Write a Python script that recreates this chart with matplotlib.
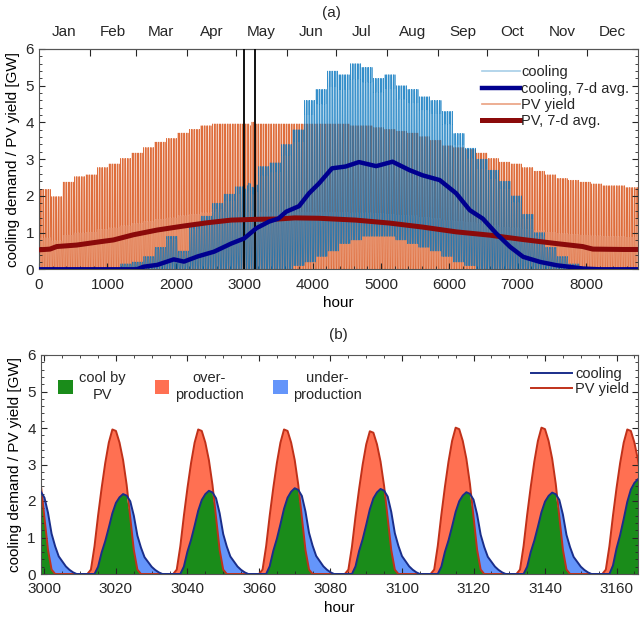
import matplotlib.pyplot as plt
import numpy as np
from matplotlib.collections import LineCollection
from matplotlib.lines import Line2D
from matplotlib.patches import Patch
from matplotlib.ticker import MultipleLocator, FixedLocator, NullFormatter, FixedFormatter

plt.rcParams['font.family'] = ['Liberation Sans', 'DejaVu Sans']
plt.rcParams['text.color'] = '#262626'
plt.rcParams['axes.edgecolor'] = '#555555'
plt.rcParams['xtick.color'] = '#262626'
plt.rcParams['ytick.color'] = '#262626'

months = ['Jan', 'Feb', 'Mar', 'Apr', 'May', 'Jun',
          'Jul', 'Aug', 'Sep', 'Oct', 'Nov', 'Dec']
month_days = [31, 28, 31, 30, 31, 30, 31, 31, 30, 31, 30, 31]

# daily peak level for each week of the year [GW]
pv_peak_week = [2.2, 2.0, 2.4, 2.55, 2.6, 2.8, 2.9, 3.05, 3.2, 3.35,
                3.5, 3.6, 3.75, 3.85, 3.95, 4.0, 4.0, 4.0, 4.0, 4.0,
                4.0, 4.0, 4.0, 4.0, 4.0, 4.0, 4.0, 3.95, 3.95, 3.9,
                3.85, 3.8, 3.75, 3.65, 3.55, 3.4, 3.35, 3.3, 3.2, 3.05,
                2.95, 2.9, 2.8, 2.7, 2.6, 2.5, 2.45, 2.4, 2.35, 2.3,
                2.3, 2.25, 2.25]
cool_peak_week = [0.0, 0.0, 0.0, 0.0, 0.0, 0.0, 0.02, 0.15, 0.2, 0.35,
                  0.6, 0.9, 0.5, 1.2, 1.45, 1.8, 2.05, 2.25, 2.3, 2.8,
                  2.9, 3.4, 3.8, 4.6, 4.9, 5.4, 5.3, 5.6, 5.5, 5.2,
                  5.3, 5.0, 4.9, 4.7, 4.6, 4.3, 3.7, 3.3, 3.0, 2.7,
                  2.4, 2.0, 1.5, 1.0, 0.6, 0.35, 0.15, 0.05, 0.0, 0.0,
                  0.0, 0.0, 0.0]
# night-time minimum of the cooling demand [GW]
cool_base_week = [0.0] * 22 + [0.1, 0.2, 0.35, 0.5, 0.7, 0.8, 0.9, 0.9,
                               0.9, 0.8, 0.7, 0.6, 0.5, 0.35, 0.2, 0.1] + [0.0] * 15

# diurnal shape per hour of day (fraction of the day's peak)
pv_shape = [0.39, 0.165, 0.03, 0, 0, 0, 0, 0, 0, 0, 0, 0,
            0, 0.03, 0.19, 0.4, 0.59, 0.76, 0.9, 0.99, 0.98, 0.9, 0.78, 0.61]
cool_shape = [0.91, 0.73, 0.48, 0.33, 0.21, 0.15, 0.09, 0.05, 0.02, 0, 0, 0,
              0, 0, 0, 0.09, 0.27, 0.41, 0.58, 0.76, 0.89, 0.96, 1.0, 0.98]

# peaks of the days in the detail window (days 124..131)
zoom_days = [124, 125, 126, 127, 128, 129, 130, 131]
pv_peak_zoom = [4.0, 4.0, 4.0, 4.0, 3.95, 4.05, 4.05, 4.0]
cool_peak_zoom = [2.3, 2.19, 2.28, 2.35, 2.33, 2.24, 2.23, 2.6]

# 7-day running averages [GW]
pv_avg_hour = [0, 160, 260, 550, 890, 1090, 1380, 1730, 2120, 2470, 2810,
               3150, 3500, 3740, 4090, 4630, 5120, 5610, 6100, 6590, 7080,
               7570, 7950, 8100, 8550, 8760]
pv_avg = [0.53, 0.55, 0.62, 0.66, 0.75, 0.80, 0.94, 1.07, 1.18, 1.27, 1.34,
          1.36, 1.37, 1.40, 1.39, 1.34, 1.26, 1.15, 1.02, 0.93, 0.81,
          0.70, 0.62, 0.55, 0.54, 0.54]
cool_avg_hour = [0, 1430, 1530, 1730, 1970, 2120, 2320, 2560, 2810, 3000,
                 3180, 3365, 3500, 3616, 3803, 3949, 4095, 4285, 4484, 4679,
                 4930, 5170, 5420, 5610, 5860, 6100, 6300, 6490, 6690, 6890,
                 7080, 7330, 7570, 7960, 8200, 8760]
cool_avg = [0, 0, 0.07, 0.12, 0.27, 0.21, 0.35, 0.48, 0.70, 0.84,
            1.12, 1.30, 1.38, 1.57, 1.72, 2.07, 2.34, 2.75, 2.80, 2.92,
            2.81, 2.93, 2.70, 2.56, 2.43, 2.07, 1.61, 1.38, 0.97, 0.61,
            0.34, 0.20, 0.11, 0.02, 0, 0]

# hourly series
hour = np.arange(8760)
day_of = np.clip((hour - 12) // 24, 0, 364)
pv_day = np.repeat(pv_peak_week, 7)[:365]
cool_day = np.repeat(cool_peak_week, 7)[:365]
base_day = np.repeat(cool_base_week, 7)[:365]
pv_day[zoom_days] = pv_peak_zoom
cool_day[zoom_days] = cool_peak_zoom
hod = hour % 24
pv = pv_day[day_of] * np.array(pv_shape)[hod]
cool = base_day[day_of] + (cool_day[day_of] - base_day[day_of]) * np.array(cool_shape)[hod]

pv_col = '#D95319'
cool_col = '#0072BD'

fig = plt.figure(figsize=(6.4, 6.23), dpi=100)
ax1 = fig.add_axes([39 / 640, (623 - 269.3) / 623, 599 / 640, 220.3 / 623])
ax2 = fig.add_axes([40.5 / 640, (623 - 574) / 623, 597.5 / 640, 219 / 623])

# ---- (a) whole year ----
def day_segments(y):
    return [np.column_stack([hour[i:i + 25], y[i:i + 25]]) for i in range(0, 8760, 24)]

ax1.add_collection(LineCollection(day_segments(pv), colors=pv_col, linewidths=0.5,
                                  alpha=0.85, zorder=1))
ax1.add_collection(LineCollection(day_segments(cool), colors=cool_col, linewidths=0.5,
                                  alpha=0.8, zorder=2))
x0, x1 = 2998.9, 3166
ax1.axvline(x0, color='black', lw=1.3, zorder=3)
ax1.axvline(x1, color='black', lw=1.3, zorder=3)
ax1.plot(pv_avg_hour, pv_avg, color='#8B0A0A', lw=3.6, zorder=4, solid_capstyle='butt')
ax1.plot(cool_avg_hour, cool_avg, color='#00008F', lw=3.2, zorder=5, solid_capstyle='butt')

ax1.set_xlim(0, 8760)
ax1.set_ylim(0, 6)
ax1.xaxis.set_major_locator(MultipleLocator(1000))
ax1.xaxis.set_minor_locator(MultipleLocator(200))
ax1.yaxis.set_major_locator(MultipleLocator(1))
ax1.yaxis.set_minor_locator(MultipleLocator(0.2))
ax1.tick_params(which='both', direction='in', top=False, right=True, labelsize=11)
ax1.tick_params(which='major', length=4)
ax1.tick_params(which='minor', length=2)
ax1.tick_params(axis='x', pad=6)
ax1.set_xlabel('hour', fontsize=11, labelpad=3)
ax1.set_ylabel('cooling demand / PV yield [GW]', fontsize=11, labelpad=4)

bounds = np.cumsum([0] + month_days) * 24
mids = (bounds[:-1] + bounds[1:]) / 2
top = ax1.secondary_xaxis('top')
top.xaxis.set_major_locator(FixedLocator(bounds[1:-1]))
top.xaxis.set_major_formatter(NullFormatter())
top.xaxis.set_minor_locator(FixedLocator(mids))
top.xaxis.set_minor_formatter(FixedFormatter(months))
top.tick_params(which='major', direction='in', length=5)
top.tick_params(which='minor', length=0, labelsize=11, pad=7)

handles_a = [Line2D([], [], color=cool_col, lw=1.2, alpha=0.35),
             Line2D([], [], color='#00008F', lw=3.2),
             Line2D([], [], color=pv_col, lw=1.2, alpha=0.55),
             Line2D([], [], color='#8B0A0A', lw=3.6)]
ax1.legend(handles_a, ['cooling', 'cooling, 7-d avg.', 'PV yield', 'PV, 7-d avg.'],
           loc='upper right', bbox_to_anchor=(1.0, 0.965), frameon=False,
           fontsize=10.5, handlelength=2.6, handletextpad=0.1, labelspacing=0.15,
           borderaxespad=0.2)

# ---- (b) detail window ----
m = (hour >= 2990) & (hour <= 3175)
t = hour[m]
p = pv[m]
c = cool[m]
low = np.minimum(p, c)
ax2.fill_between(t, 0, low, color='#1A8C1A', lw=0, zorder=1)
ax2.fill_between(t, c, p, where=p >= c, interpolate=True, color='#FF7052', lw=0, zorder=1)
ax2.fill_between(t, p, c, where=c >= p, interpolate=True, color='#6495FA', lw=0, zorder=1)
ax2.plot(t, c, color='#1A2E8A', lw=1.4, zorder=3)
ax2.plot(t, p, color='#C0311A', lw=1.4, zorder=2)

ax2.set_xlim(x0, x1)
ax2.set_ylim(0, 6)
ax2.xaxis.set_major_locator(MultipleLocator(20))
ax2.xaxis.set_minor_locator(MultipleLocator(5))
ax2.yaxis.set_major_locator(MultipleLocator(1))
ax2.yaxis.set_minor_locator(MultipleLocator(0.2))
ax2.tick_params(which='both', direction='in', top=True, right=True, labelsize=11)
ax2.tick_params(which='major', length=4)
ax2.tick_params(which='minor', length=2)
ax2.tick_params(axis='x', pad=6)
ax2.set_xlabel('hour', fontsize=11, labelpad=3)
ax2.set_ylabel('cooling demand / PV yield [GW]', fontsize=11, labelpad=4)

patches = [Patch(facecolor='#1A8C1A', edgecolor='none'),
           Patch(facecolor='#FF7052', edgecolor='none'),
           Patch(facecolor='#6495FA', edgecolor='none')]
leg_b = ax2.legend(patches, ['cool by\nPV', 'over-\nproduction', 'under-\nproduction'],
                   loc='upper left', bbox_to_anchor=(0.008, 0.985), ncol=3, frameon=False,
                   fontsize=10.5, handlelength=1.0, handleheight=1.1,
                   handletextpad=0.4, columnspacing=2.0)
for txt in leg_b.get_texts():
    txt.set_multialignment('center')
ax2.add_artist(leg_b)
ax2.legend([Line2D([], [], color='#1A2E8A', lw=1.4), Line2D([], [], color='#C0311A', lw=1.4)],
           ['cooling', 'PV yield'], loc='upper right', bbox_to_anchor=(1.0, 0.985),
           frameon=False, fontsize=10.5, handlelength=2.8, handletextpad=0.2,
           labelspacing=0.05, borderaxespad=0.2)

fig.text(331 / 640, 1 - 13.5 / 623, '(a)', ha='center', va='center', fontsize=11)
fig.text(338 / 640, 1 - 335 / 623, '(b)', ha='center', va='center', fontsize=11)

fig.savefig('out.png', dpi=100)
